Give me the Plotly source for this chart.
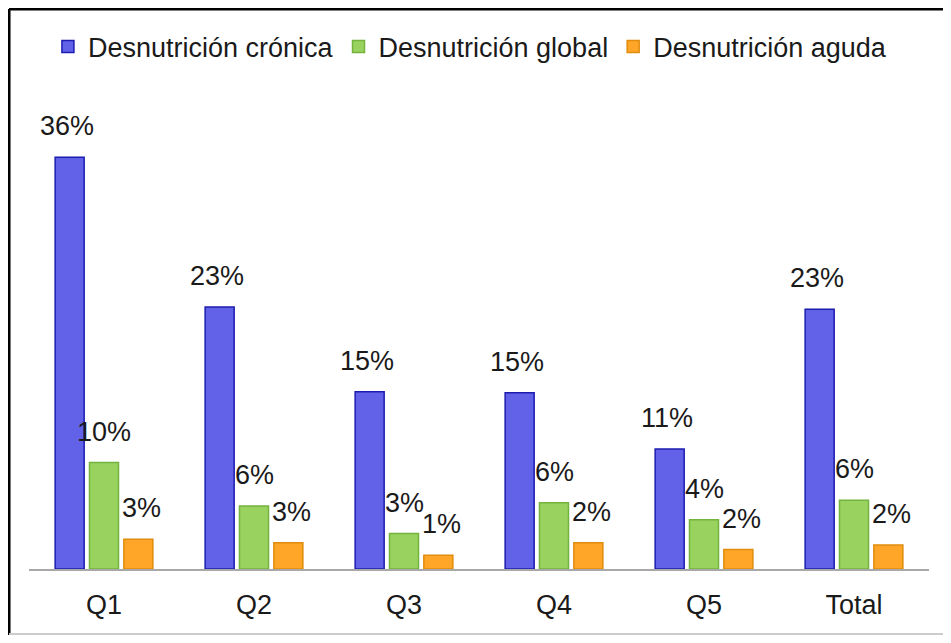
import plotly.graph_objects as go

# Datos
quintiles = ['Q1', 'Q2', 'Q3', 'Q4', 'Q5', 'Total']

cronica = [36.0, 22.9, 15.5, 15.4, 10.5, 22.7]
global_ = [9.3, 5.5, 3.1, 5.8, 4.3, 6.0]
aguda = [2.6, 2.3, 1.2, 2.3, 1.7, 2.1]

# etiquetas tal como aparecen sobre las barras
lbl_cronica = ['36%', '23%', '15%', '15%', '11%', '23%']
lbl_global = ['10%', '6%', '3%', '6%', '4%', '6%']
lbl_aguda = ['3%', '3%', '1%', '2%', '2%', '2%']

FONT = 'Liberation Sans, Arial, sans-serif'
TXT = '#1a1a1a'

series = [
    ('Desnutrición crónica', cronica, lbl_cronica, '#6262e8', '#1c1cb0', -37),
    ('Desnutrición global', global_, lbl_global, '#9ad25f', '#72b43e', 0),
    ('Desnutrición aguda', aguda, lbl_aguda, '#ffa628', '#e08c0c', 37),
]

fig = go.Figure()

for nombre, vals, lbls, fill, borde, dx in series:
    fig.add_trace(go.Bar(
        x=quintiles,
        y=vals,
        name=nombre,
        marker=dict(color=fill, line=dict(color=borde, width=1.5)),
        hoverinfo='skip'
    ))
    # etiquetas encima de cada barra
    for q, v, t in zip(quintiles, vals, lbls):
        fig.add_annotation(
            x=q, y=v, text=t, showarrow=False,
            xanchor='center', yanchor='bottom',
            xshift=dx, yshift=14,
            font=dict(family=FONT, size=27, color=TXT)
        )

# marco de la imagen (arriba e izquierda negro, abajo gris)
# sin márgenes: paper = figura completa
fig.add_shape(type='line', xref='paper', yref='paper',
              x0=0.0011, x1=1, y0=0.9984, y1=0.9984,
              line=dict(color='black', width=3))
fig.add_shape(type='line', xref='paper', yref='paper',
              x0=0.0011, x1=0.0011, y0=0, y1=0.9984,
              line=dict(color='black', width=3))
fig.add_shape(type='line', xref='paper', yref='paper',
              x0=0.0011, x1=1, y0=0.0016, y1=0.0016,
              line=dict(color='#cccccc', width=2))

fig.update_layout(
    width=935,
    height=627,
    margin=dict(l=0, r=0, t=0, b=0),
    paper_bgcolor='white',
    plot_bgcolor='white',
    barmode='group',
    bargap=0.313,
    bargroupgap=0.155,
    font=dict(family=FONT, size=27, color=TXT),
    showlegend=True,
    legend=dict(
        orientation='h',
        x=0.0427,
        xanchor='left',
        y=0.9378,
        yanchor='middle',
        font=dict(family=FONT, size=27, color=TXT),
        itemclick=False,
        itemdoubleclick=False
    ),
    xaxis=dict(
        domain=[0.02246, 0.98503],
        showline=True,
        linecolor='#a8a8a8',
        linewidth=2,
        showgrid=False,
        ticks='',
        ticklabelstandoff=11,
        tickfont=dict(family=FONT, size=27, color=TXT),
        fixedrange=True
    ),
    yaxis=dict(
        domain=[0.10526, 0.85327],
        range=[0, 41],
        visible=False,
        showgrid=False,
        zeroline=False,
        fixedrange=True
    )
)

fig.write_html("out.html")
